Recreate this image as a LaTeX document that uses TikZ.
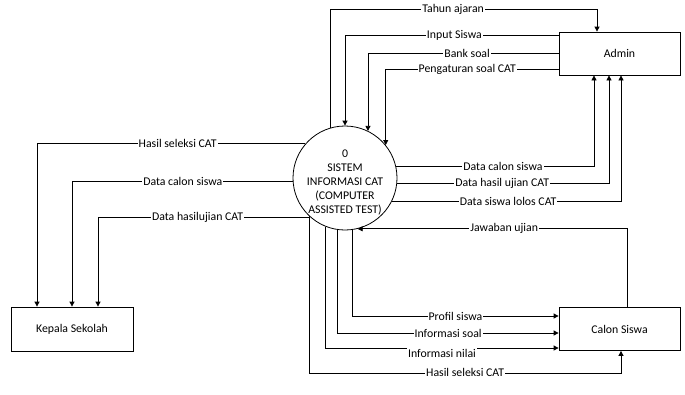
\documentclass[tikz,border=0pt]{standalone}
\usepackage{fontspec}
\setmainfont{Carlito}
\usetikzlibrary{arrows.meta}
\begin{document}
\begin{tikzpicture}[x=1pt,y=-1pt,
  every node/.style={font=\fontsize{11.8}{14}\selectfont},
  ent/.style={draw,line width=0.8pt,minimum width=121pt,minimum height=43pt,inner sep=0pt},
  proc/.style={draw,circle,line width=0.8pt,minimum size=104pt,inner sep=0pt},
  flow/.style={line width=0.8pt,-{Triangle[length=5pt,width=5pt]}},
  lab/.style={fill=white,inner sep=1pt}]
\useasboundingbox (0,0) rectangle (685,394);
\node[ent] (admin) at (619.5,53.5) {Admin};
\node[ent] (calon) at (619.5,329) {Calon Siswa};
\node[ent,minimum width=122pt,minimum height=44pt] (kepala) at (72,329) {Kepala Sekolah};
\node[proc,label={[yshift=-4.5pt,align=center,inner sep=0pt]center:0\\SISTEM\\INFORMASI CAT\\(COMPUTER\\ASSISTED TEST)}] (c) at (345,178) {};
% to Admin
\draw[flow] (c.106.77) |- node[lab,pos=0.73]{Tahun ajaran} ([xshift=-22.5pt,yshift=22pt]admin.north) -- ([xshift=-22.5pt]admin.north);
\draw[flow] ([yshift=18.5pt]admin.west) -| node[lab,pos=0.244]{Input Siswa} (c.north);
\draw[flow] (admin.west) -| node[lab,pos=0.24]{Bank soal} (c.64.97);
\draw[flow] ([yshift=-15.5pt]admin.west) -| node[lab,pos=0.264]{Pengaturan soal CAT} (c.39.7);
\draw[flow] (c.13.3) -| node[lab,pos=0.27]{Data calon siswa} ([xshift=-25.5pt]admin.south);
\draw[flow] (c.-6.6) -| node[lab,pos=0.248]{Data hasil ujian CAT} ([xshift=-10.5pt]admin.south);
\draw[flow] (c.-27.5) -| node[lab,pos=0.254]{Data siswa lolos CAT} ([xshift=1.5pt]admin.south);
% Calon Siswa
\draw[flow] ([xshift=7.5pt]calon.north) |- node[lab,pos=0.728]{Jawaban ujian} (c.-76);
\draw[flow] (c.-82.3) |- node[lab,pos=0.75]{Profil siswa} ([yshift=13pt]calon.west);
\draw[flow] (c.-98.85) |- node[lab,pos=0.75]{Informasi soal} ([yshift=-4pt]calon.west);
\draw[flow] (c.-112.6) |- node[lab,pos=0.75,yshift=-5pt]{Informasi nilai} ([yshift=-19pt]calon.west);
\draw[flow] (c.-133.8) |- node[lab,pos=0.75]{Hasil seleksi CAT} ([xshift=1.5pt,yshift=-22pt]calon.south) -- ([xshift=1.5pt]calon.south);
% Kepala Sekolah
\draw[flow] (c.139.2) -| node[lab,pos=0.238]{Hasil seleksi CAT} ([xshift=-35pt]kepala.north);
\draw[flow] (c.184.4) -| node[lab,pos=0.249]{Data calon siswa} (kepala.north);
\draw[flow] (c.228.6) -| node[lab,pos=0.265]{Data hasilujian CAT} ([xshift=26pt]kepala.north);
\end{tikzpicture}
\end{document}
